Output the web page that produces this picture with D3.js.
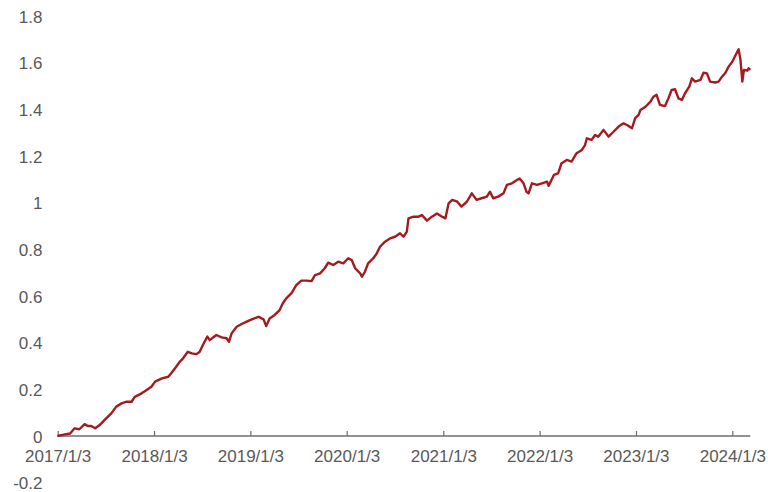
<!DOCTYPE html>
<html>
<head>
<meta charset="utf-8">
<script src="https://cdn.jsdelivr.net/npm/d3@7"></script>
<style>
  html, body { margin: 0; padding: 0; background: #fff; }
  svg { display: block; }
  text { font-family: "Liberation Sans", Arial, sans-serif; }
</style>
</head>
<body>
<svg id="chart" width="768" height="492"></svg>
<script>
// ---- data ----
const dates = [
  "2017-01-03","2017-01-30","2017-02-19","2017-03-08","2017-03-26","2017-04-15","2017-04-27","2017-05-10",
  "2017-05-25","2017-06-11","2017-06-30","2017-07-25","2017-08-13","2017-09-02","2017-09-21","2017-10-10",
  "2017-10-22","2017-11-17","2017-12-06","2017-12-24","2018-01-07","2018-02-02","2018-02-26","2018-03-09",
  "2018-03-28","2018-04-10","2018-04-23","2018-05-11","2018-05-26","2018-06-13","2018-06-25","2018-07-07",
  "2018-07-24","2018-08-02","2018-08-27","2018-09-16","2018-10-05","2018-10-14","2018-10-24","2018-11-12",
  "2018-12-01","2018-12-20","2019-01-08","2019-02-03","2019-02-22","2019-03-04","2019-03-17","2019-04-05",
  "2019-04-24","2019-05-06","2019-05-19","2019-06-08","2019-06-26","2019-07-15","2019-08-04","2019-08-23",
  "2019-09-05","2019-09-24","2019-10-12","2019-10-25","2019-11-13","2019-12-02","2019-12-21","2020-01-09",
  "2020-01-22","2020-02-04","2020-02-23","2020-03-01","2020-03-12","2020-03-24","2020-04-13","2020-04-26",
  "2020-05-08","2020-05-27","2020-06-15","2020-07-04","2020-07-23","2020-08-05","2020-08-18","2020-08-24",
  "2020-09-12","2020-10-01","2020-10-14","2020-11-02","2020-11-21","2020-12-10","2020-12-29","2021-01-11",
  "2021-01-23","2021-02-06","2021-02-25","2021-03-13","2021-04-02","2021-04-21","2021-05-09","2021-05-28",
  "2021-06-17","2021-06-29","2021-07-11","2021-07-30","2021-08-19","2021-09-01","2021-09-20","2021-10-09",
  "2021-10-19","2021-11-03","2021-11-14","2021-11-22","2021-12-05","2021-12-24","2022-01-12","2022-01-31",
  "2022-02-06","2022-02-26","2022-03-14","2022-03-27","2022-04-16","2022-05-04","2022-05-23","2022-06-12",
  "2022-06-24","2022-07-01","2022-07-19","2022-08-01","2022-08-13","2022-09-02","2022-09-21","2022-10-10",
  "2022-10-29","2022-11-17","2022-11-30","2022-12-19","2022-12-31","2023-01-13","2023-01-20","2023-02-08",
  "2023-02-27","2023-03-10","2023-03-22","2023-04-04","2023-04-23","2023-05-06","2023-05-18","2023-05-31",
  "2023-06-13","2023-06-26","2023-07-08","2023-07-24","2023-08-03","2023-08-15","2023-09-04","2023-09-16",
  "2023-09-29","2023-10-11","2023-10-30","2023-11-12","2023-11-25","2023-12-08","2023-12-20","2024-01-03",
  "2024-01-19","2024-01-27","2024-02-03","2024-02-10","2024-02-16","2024-02-29","2024-03-05","2024-03-11"
];
const values = [
  0.000,0.007,0.011,0.033,0.029,0.051,0.043,0.043,
  0.033,0.047,0.069,0.097,0.126,0.140,0.147,0.147,
  0.168,0.183,0.197,0.211,0.233,0.247,0.254,0.269,
  0.297,0.318,0.333,0.361,0.354,0.351,0.361,0.390,
  0.426,0.411,0.433,0.423,0.419,0.404,0.440,0.468,
  0.480,0.490,0.500,0.511,0.500,0.471,0.504,0.519,
  0.540,0.569,0.590,0.612,0.647,0.666,0.666,0.664,
  0.690,0.697,0.719,0.743,0.733,0.747,0.740,0.762,
  0.754,0.719,0.697,0.683,0.704,0.740,0.762,0.783,
  0.811,0.833,0.847,0.854,0.869,0.854,0.876,0.933,
  0.940,0.940,0.947,0.923,0.940,0.954,0.940,0.933,
  0.997,1.012,1.004,0.983,1.004,1.040,1.012,1.019,
  1.026,1.047,1.019,1.026,1.040,1.076,1.083,1.097,
  1.104,1.083,1.047,1.040,1.083,1.076,1.083,1.090,
  1.072,1.119,1.126,1.169,1.183,1.176,1.212,1.226,
  1.247,1.276,1.269,1.290,1.283,1.312,1.283,1.304,
  1.326,1.340,1.333,1.319,1.362,1.376,1.397,1.411,
  1.433,1.454,1.462,1.419,1.414,1.447,1.483,1.486,
  1.447,1.440,1.469,1.497,1.533,1.519,1.526,1.557,
  1.554,1.519,1.515,1.519,1.540,1.557,1.583,1.604,
  1.640,1.657,1.612,1.519,1.569,1.566,1.576,1.569
];
const xTickLabels = ["2017/1/3","2018/1/3","2019/1/3","2020/1/3","2021/1/3","2022/1/3","2023/1/3","2024/1/3"];
const yTickValues = [-0.2,0,0.2,0.4,0.6,0.8,1,1.2,1.4,1.6,1.8];

// ---- drawing ----
const parse = d3.timeParse("%Y-%m-%d");
const parseTick = d3.timeParse("%Y/%m/%d");
const data = dates.map((d, i) => ({ date: parse(d), value: values[i] }));
const xTicks = xTickLabels.map(s => parseTick(s));

const svg = d3.select("#chart");
const textColor = "#595959";

const x = d3.scaleTime()
  .domain([xTicks[0], xTicks[xTicks.length - 1]])
  .range([57.7, 732.3]);
const y = d3.scaleLinear()
  .domain([-0.2, 1.8])
  .range([482.7, 16]);

// x axis line at value 0, spanning the data extent
const dataExtent = d3.extent(data, d => d.date);
svg.append("line")
  .attr("x1", x(dataExtent[0]) - 0.7)
  .attr("x2", x(dataExtent[1]))
  .attr("y1", y(0)).attr("y2", y(0))
  .attr("stroke", "#6e6e6e")
  .attr("stroke-width", 1.4);

const fmt = d3.timeFormat("%Y/%-m/%-d");
const xAxis = d3.axisBottom(x)
  .tickValues(xTicks)
  .tickFormat(fmt)
  .tickSizeInner(-5)
  .tickSizeOuter(0)
  .tickPadding(0);
const gx = svg.append("g")
  .attr("transform", `translate(0,${y(0)})`)
  .call(xAxis);
gx.select(".domain").remove();
gx.selectAll(".tick line").attr("stroke", "#6e6e6e").attr("stroke-width", 1.2);
gx.selectAll(".tick text")
  .attr("y", 26)
  .attr("dy", 0)
  .attr("fill", textColor)
  .style("font-size", "17px");

const yAxis = d3.axisLeft(y)
  .tickValues(yTickValues)
  .tickFormat(d => String(+d.toFixed(1)))
  .tickSize(0)
  .tickPadding(0);
const gy = svg.append("g")
  .attr("transform", "translate(42.5,0)")
  .call(yAxis);
gy.select(".domain").remove();
gy.selectAll(".tick text")
  .attr("fill", textColor)
  .attr("dy", "0.36em")
  .style("font-size", "17px");

// series line
const line = d3.line()
  .x(d => x(d.date))
  .y(d => y(d.value));
svg.append("path")
  .datum(data)
  .attr("fill", "none")
  .attr("stroke", "#a31b1f")
  .attr("stroke-width", 2.4)
  .attr("stroke-linejoin", "round")
  .attr("d", line);
</script>
</body>
</html>
